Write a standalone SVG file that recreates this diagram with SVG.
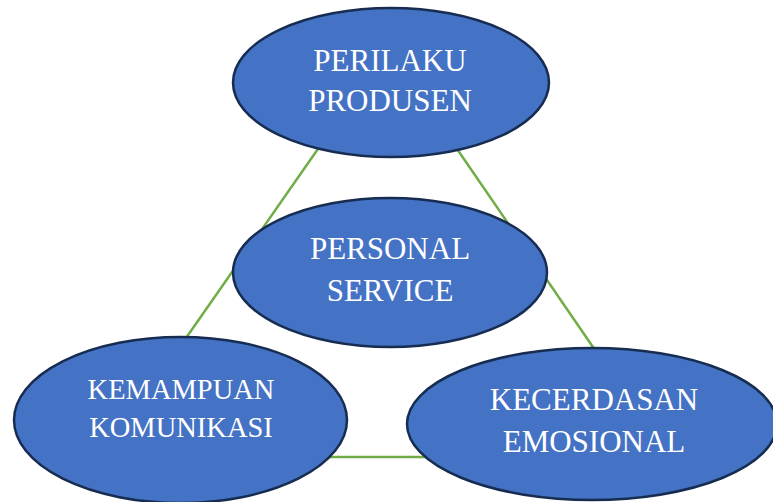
<svg xmlns="http://www.w3.org/2000/svg" width="773" height="502" viewBox="0 0 773 502">
<style>
.node{fill:#4472C4;stroke:#172C51;stroke-width:2.5}
.lbl{fill:#FFFFFF;font-family:"Liberation Serif","Times New Roman",serif;font-size:31px;text-anchor:middle}
.sm{font-size:28.5px}
.conn{stroke:#70AD47;stroke-width:2.5;fill:none}
</style>
<rect width="773" height="502" fill="#FFFFFF"/>
<g id="connectors">
<line class="conn" x1="320" y1="146" x2="186" y2="338"/>
<line class="conn" x1="455" y1="146" x2="595" y2="350"/>
<line class="conn" x1="330" y1="457" x2="430" y2="457"/>
</g>
<g id="node-perilaku">
<ellipse class="node" cx="391" cy="82.5" rx="158" ry="74.5"/>
<text class="lbl" x="390" y="71">PERILAKU</text>
<text class="lbl" x="390" y="111">PRODUSEN</text>
</g>
<g id="node-personal">
<ellipse class="node" cx="390" cy="272.5" rx="157" ry="74.5"/>
<text class="lbl" x="390" y="259">PERSONAL</text>
<text class="lbl" x="390" y="301">SERVICE</text>
</g>
<g id="node-kemampuan">
<ellipse class="node" cx="180.5" cy="420" rx="166.5" ry="83"/>
<text class="lbl sm" x="181" y="399">KEMAMPUAN</text>
<text class="lbl sm" x="181" y="437">KOMUNIKASI</text>
</g>
<g id="node-kecerdasan">
<ellipse class="node" cx="592" cy="424" rx="185" ry="76"/>
<text class="lbl" x="594" y="410">KECERDASAN</text>
<text class="lbl" x="594" y="452">EMOSIONAL</text>
</g>
</svg>
